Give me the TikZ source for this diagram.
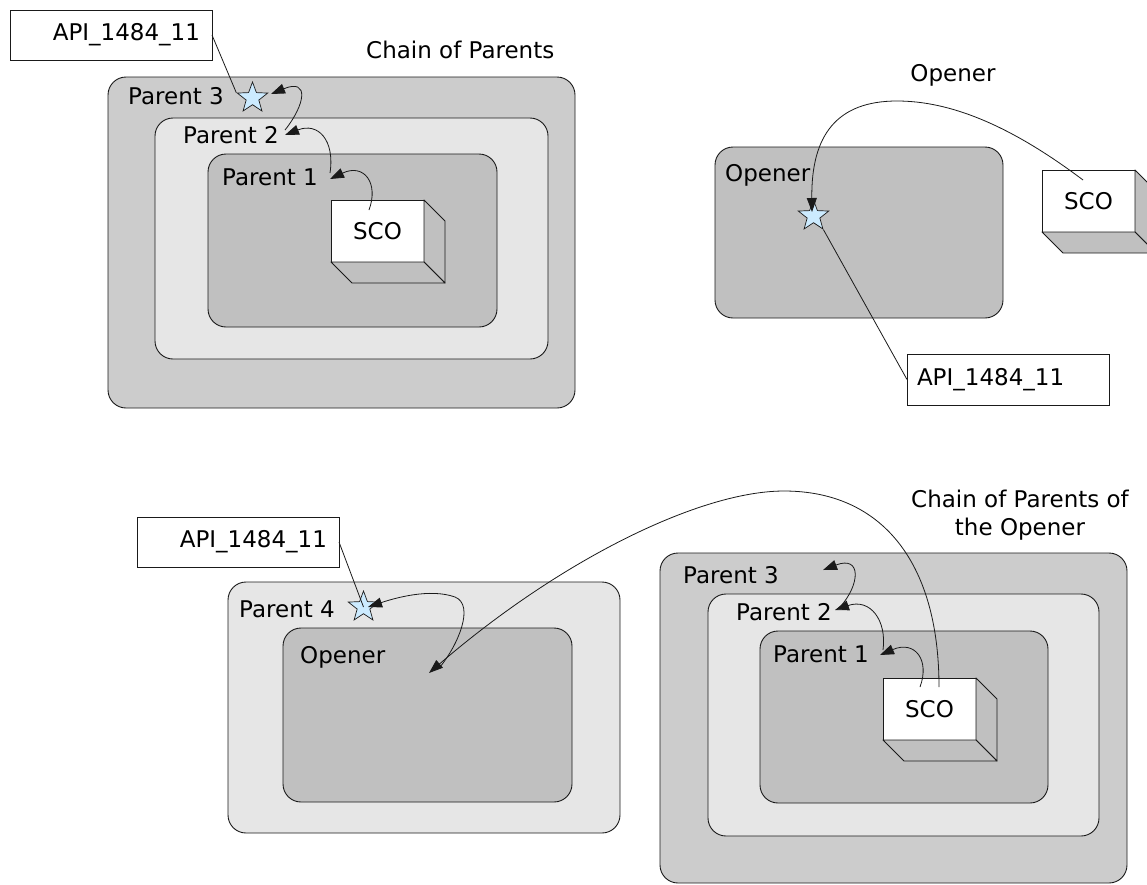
\documentclass[tikz,border=0pt]{standalone}
\usepackage{fontspec}
\setmainfont{DejaVu Sans}
\usetikzlibrary{arrows.meta,shapes.geometric,calc}
\definecolor{cOuter}{HTML}{CCCCCC}
\definecolor{cMid}{HTML}{E6E6E6}
\definecolor{cInner}{HTML}{C0C0C0}
\definecolor{cStar}{HTML}{CCEBFF}
\definecolor{cLine}{HTML}{1A1A1A}
\begin{document}
\begin{tikzpicture}[x=1pt,y=-1pt,
  font=\fontsize{23}{28}\selectfont,
  frame/.style={draw=cLine, line width=0.9pt, rounded corners=18pt, inner sep=0pt, outer sep=0pt, anchor=north west},
  outerbox/.style={frame, fill=cOuter},
  midbox/.style={frame, fill=cMid},
  innerbox/.style={frame, fill=cInner},
  scobox/.style={draw=cLine, line width=0.9pt, fill=white, inner sep=0pt, outer sep=0pt, anchor=north west, minimum width=93pt, minimum height=62pt},
  scoside/.style={draw=cLine, line width=0.9pt, fill=cInner, line join=round},
  apibox/.style={draw=cLine, line width=0.9pt, fill=white, inner xsep=12pt, inner ysep=0pt, outer sep=0pt, anchor=north west, minimum height=50pt, text width=178pt},
  lbl/.style={anchor=base west, inner sep=0pt},
  starnode/.style={star, star points=5, star point ratio=2.4, minimum size=32pt, inner sep=0pt, draw=cLine, line width=0.7pt, fill=cStar},
  conn/.style={draw=cLine, line width=0.8pt},
  arr/.style={conn, -{Triangle[length=14pt,width=10pt]}}
]
\useasboundingbox (0,0) rectangle (1147,884);
\clip (0,0) rectangle (1147,884);

% ---------- Top left: Chain of Parents ----------
\node[outerbox, minimum width=467pt, minimum height=331pt] (tlP3) at (108,77) {};
\node[midbox, minimum width=393pt, minimum height=241pt] (tlP2) at (155,118) {};
\node[innerbox, minimum width=289pt, minimum height=173pt] (tlP1) at (208,154) {};
\node[scobox] (tlSCO) at (331,200) {SCO};
\draw[scoside] (tlSCO.north east) -- ++(21,21) -- ($(tlSCO.south east)+(21,21)$) -- (tlSCO.south east) -- cycle;
\draw[scoside] (tlSCO.south west) -- ++(21,21) -- ($(tlSCO.south east)+(21,21)$) -- (tlSCO.south east) -- cycle;
\node[lbl] (tlL3) at (128,104) {Parent 3};
\node[lbl] (tlL2) at (183,143) {Parent 2};
\node[lbl] (tlL1) at (222,185) {Parent 1};
\node[lbl] (tlTitle) at (366,58) {Chain of Parents};
\node[apibox, align=right] (api1) at (10,10) {API\_1484\_11};
\node[starnode] (star1) at (252.5,98) {};

% ---------- Top right: Opener ----------
\node[innerbox, minimum width=288pt, minimum height=171pt] (trOp) at (715,147) {};
\node[lbl] (trOpL) at (725,181) {Opener};
\node[anchor=base, inner sep=0pt] (trTitle) at (953,81) {Opener};
\node[scobox] (trSCO) at (1042,170) {SCO};
\draw[scoside] (trSCO.north east) -- ++(21,21) -- ($(trSCO.south east)+(21,21)$) -- (trSCO.south east) -- cycle;
\draw[scoside] (trSCO.south west) -- ++(21,21) -- ($(trSCO.south east)+(21,21)$) -- (trSCO.south east) -- cycle;
\node[apibox, align=left, inner xsep=10pt, text width=182pt, minimum height=51pt] (api2) at (907,354) {API\_1484\_11};
\node[starnode] (star2) at (813.5,216) {};

% ---------- Bottom left: Parent 4 / Opener ----------
\node[midbox, minimum width=392pt, minimum height=251pt] (blP4) at (228,582) {};
\node[innerbox, minimum width=289pt, minimum height=174pt] (blOp) at (283,628) {};
\node[lbl] (blL4) at (239,617) {Parent 4};
\node[lbl] (blOpL) at (300,663) {Opener};
\node[apibox, align=right] (api3) at (137,517) {API\_1484\_11};
\node[starnode] (star3) at (363.5,607) {};

% ---------- Bottom right: Chain of Parents of the Opener ----------
\node[outerbox, minimum width=467pt, minimum height=330pt] (brP3) at (660,553) {};
\node[midbox, minimum width=391pt, minimum height=242pt] (brP2) at (708,594) {};
\node[innerbox, minimum width=288pt, minimum height=172pt] (brP1) at (760,631) {};
\node[scobox] (brSCO) at (883,678) {SCO};
\draw[scoside] (brSCO.north east) -- ++(21,21) -- ($(brSCO.south east)+(21,21)$) -- (brSCO.south east) -- cycle;
\draw[scoside] (brSCO.south west) -- ++(21,21) -- ($(brSCO.south east)+(21,21)$) -- (brSCO.south east) -- cycle;
\node[lbl] (brL3) at (683,583) {Parent 3};
\node[lbl] (brL2) at (736,620) {Parent 2};
\node[lbl] (brL1) at (773,662) {Parent 1};
\node[align=center, anchor=north, inner sep=0pt] (brTitle) at (1020,490) {Chain of Parents of\\the Opener};

% ---------- connector end points ----------
\coordinate (tl-s0) at (369,210);
\coordinate (tl-t1) at (330,179);
\coordinate (tl-s1) at (330,173);
\coordinate (tl-t2) at (285,135);
\coordinate (tl-s2) at (285,130);
\coordinate (tl-t3) at (271,94);
\coordinate (tr-s) at (1083,180);
\coordinate (tr-t) at (812,212);
\coordinate (bl-s) at (440,667);
\coordinate (bl-t) at (368,607);
\coordinate (bl-op) at (429,673);
\coordinate (br-big) at (939,687);
\coordinate (br-s0) at (920,687);
\coordinate (br-t1) at (880,655);
\coordinate (br-s1) at (883,650);
\coordinate (br-t2) at (835,610);
\coordinate (br-s2) at (840,607);
\coordinate (br-t3) at (823,570);

% ---------- connectors ----------
\draw[conn] (api1.east) -- (star1.outer point 2);
\draw[arr] (tl-s0) .. controls (379,183) and (364,163) .. (tl-t1);
\draw[arr] (tl-s1) .. controls (335,140) and (318,122) .. (tl-t2);
\draw[arr] (tl-s2) .. controls (305,105) and (310,78) .. (tl-t3);

\draw[conn] (api2.west) -- (star2.outer point 4);
\draw[arr] (tr-s) .. controls (1010,125) and (950,101) .. (897,101) .. controls (837,101) and (811,135) .. (tr-t);

\draw[conn] (api3.east) -- (star3.center);
\draw[arr] (bl-s) .. controls (458,645) and (475,605) .. (455,597) .. controls (430,588) and (395,598) .. (bl-t);
\draw[arr] (br-big) .. controls (939,560) and (880,491) .. (784,491) .. controls (700,491) and (560,560) .. (bl-op);

\draw[arr] (br-s0) .. controls (930,660) and (915,640) .. (br-t1);
\draw[arr] (br-s1) .. controls (887,620) and (870,598) .. (br-t2);
\draw[arr] (br-s2) .. controls (860,585) and (862,555) .. (br-t3);
\end{tikzpicture}
\end{document}
